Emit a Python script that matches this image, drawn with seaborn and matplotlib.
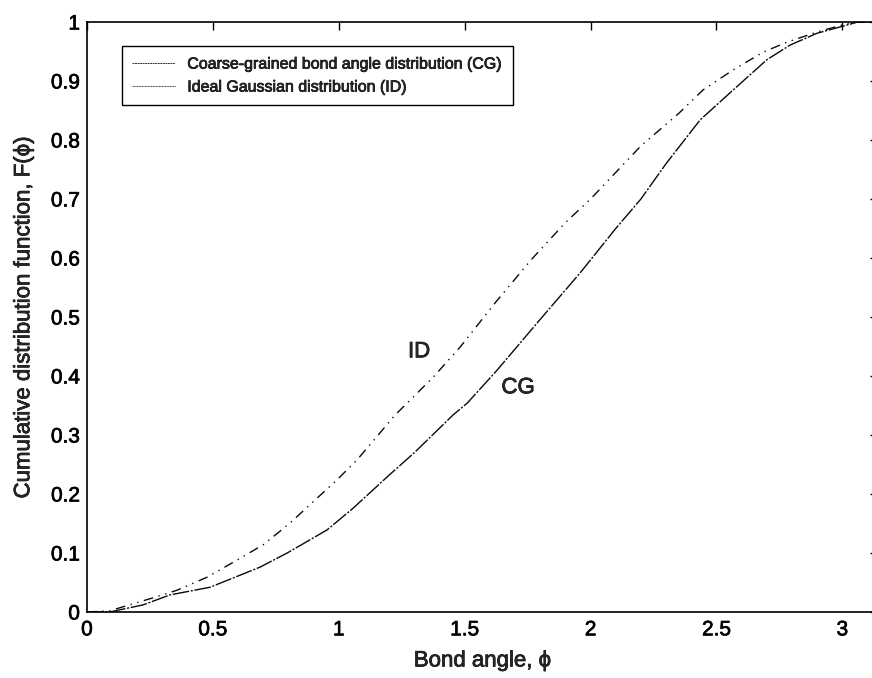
import numpy as np
import pandas as pd
import matplotlib
matplotlib.use("Agg")
import matplotlib.pyplot as plt
import matplotlib.patheffects as pe
from matplotlib.lines import Line2D
import seaborn as sns

# Cumulative distribution of the coarse-grained bond angle (CG)
cg_angle = [0, 0.09, 0.222, 0.33, 0.489, 0.687, 0.795, 0.953, 1.057, 1.2, 1.3,
            1.454, 1.51, 1.629, 1.788, 1.959, 2.1, 2.2, 2.3, 2.435, 2.567, 2.70,
            2.793, 2.9, 3.02, 3.06, 3.1416]
cg_cdf = [0, 0.0, 0.012, 0.029, 0.042, 0.076, 0.100, 0.139, 0.176, 0.232, 0.27,
          0.334, 0.354, 0.410, 0.490, 0.575, 0.65, 0.70, 0.76, 0.834, 0.885, 0.936,
          0.961, 0.981, 0.995, 1.0, 1.0]

# Cumulative distribution of the ideal Gaussian (ID)
id_angle = [0, 0.09, 0.262, 0.358, 0.477, 0.596, 0.70, 0.807, 0.914, 0.993, 1.073,
            1.224, 1.375, 1.482, 1.621, 1.764, 1.9, 2.0, 2.1, 2.2, 2.35, 2.447,
            2.567, 2.686, 2.781, 2.9, 3.0, 3.06, 3.1416]
id_cdf = [0, 0.002, 0.024, 0.037, 0.059, 0.088, 0.114, 0.151, 0.193, 0.224, 0.258,
          0.334, 0.398, 0.449, 0.524, 0.597, 0.66, 0.70, 0.745, 0.79, 0.845, 0.885,
          0.919, 0.949, 0.966, 0.983, 0.995, 1.0, 1.0]

cg_name = "Coarse-grained bond angle distribution (CG)"
id_name = "Ideal Gaussian distribution (ID)"

x_ticks = [0, 0.5, 1, 1.5, 2, 2.5, 3]
x_tick_labels = ["0", "0.5", "1", "1.5", "2", "2.5", "3"]
y_ticks = [0, 0.1, 0.2, 0.3, 0.4, 0.5, 0.6, 0.7, 0.8, 0.9, 1]
y_tick_labels = ["0", "0.1", "0.2", "0.3", "0.4", "0.5", "0.6", "0.7", "0.8", "0.9", "1"]

df = pd.concat([
    pd.DataFrame({"angle": cg_angle, "F": cg_cdf, "series": cg_name}),
    pd.DataFrame({"angle": id_angle, "F": id_cdf, "series": id_name}),
])

sns.set_style("white")
plt.rcParams["font.family"] = ["Liberation Sans", "DejaVu Sans"]

fig = plt.figure(figsize=(8.72, 6.78), dpi=100)
ax = fig.add_axes([87 / 872, 66 / 678, 791 / 872, 590 / 678])

sns.lineplot(data=df, x="angle", y="F", hue="series", style="series",
             palette={cg_name: "#0a0a0a", id_name: "#0a0a0a"},
             dashes={cg_name: (12, 1.2, 1.5, 1.2), id_name: (7, 4, 1, 4, 1, 4)},
             linewidth=1.0, ax=ax, legend=False, sort=False)

ax.set_xlim(0, np.pi)
ax.set_ylim(0, 1)
ax.set_xticks(x_ticks)
ax.set_xticklabels(x_tick_labels)
ax.set_yticks(y_ticks)
ax.set_yticklabels(y_tick_labels)
ax.tick_params(direction="in", length=6, width=1, top=True, right=True,
               labelsize=15, colors="black")
ax.tick_params(axis="y", pad=5)
ax.tick_params(axis="x", pad=6)
for s in ax.spines.values():
    s.set_color("black")
    s.set_linewidth(1.2)

ax.set_xlabel("Bond angle, \u03d5", fontsize=16, labelpad=8)
ax.set_ylabel("Cumulative distribution function, F(\u03d5)", fontsize=16, labelpad=12)

ax.text(1.319, 0.441, "ID", fontsize=16, ha="center", va="center")
ax.text(1.712, 0.380, "CG", fontsize=16, ha="center", va="center")

handles = [Line2D([], [], color="#333333", lw=0.7, dashes=(2, 0.6)),
           Line2D([], [], color="#333333", lw=0.7, dashes=(1, 0.6))]
leg = ax.legend(handles, [cg_name, id_name], loc="upper left",
                bbox_to_anchor=(0.044, 0.959), fontsize=11.5, frameon=True,
                fancybox=False, edgecolor="black", framealpha=1,
                handlelength=2.7, handletextpad=0.75, borderpad=0.65,
                labelspacing=0.5, borderaxespad=0)
leg.get_frame().set_linewidth(1.0)

# heavier strokes on all text, as printed
stroke = [pe.withStroke(linewidth=0.5, foreground="black")]
texts = (ax.get_xticklabels() + ax.get_yticklabels() + ax.texts +
         leg.get_texts() + [ax.xaxis.label, ax.yaxis.label])
for t in texts:
    t.set_path_effects(stroke)

fig.savefig("out.png", dpi=100)
